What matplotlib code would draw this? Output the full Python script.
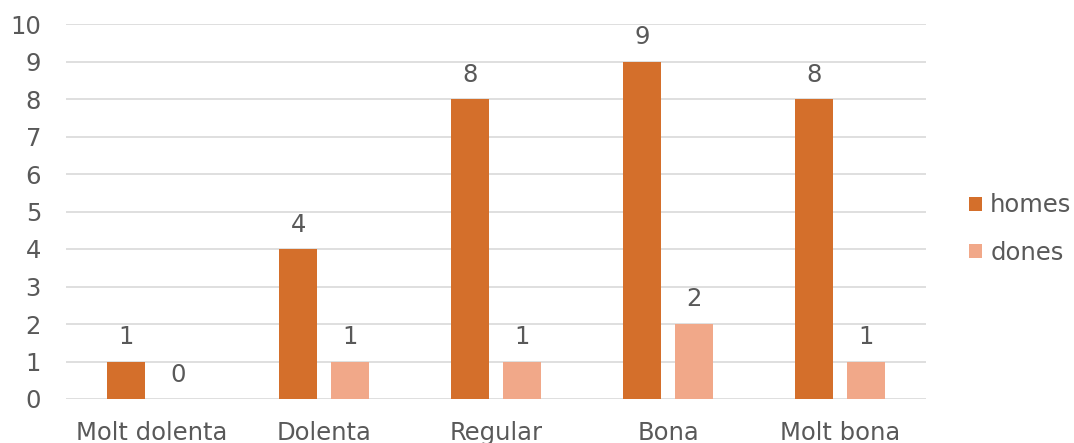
import matplotlib
matplotlib.use("Agg")
import matplotlib.pyplot as plt
import numpy as np

categories = ["Molt dolenta", "Dolenta", "Regular", "Bona", "Molt bona"]
homes = [1, 4, 8, 9, 8]
dones = [0, 1, 1, 2, 1]
yticks = list(range(0, 11))

c_homes = "#D46F2B"
c_dones = "#F1A889"
txt = "#595959"
grid = "#D9D9D9"
fs = 17.5

plt.rcParams['font.family'] = ['DejaVu Sans']

fig = plt.figure(figsize=(10.74, 4.43), dpi=100)
ax = fig.add_axes([66/1074, 44/443, 860/1074, 375/443])

x = np.arange(len(categories))
w = 0.222
off = 0.149
b1 = ax.bar(x - off, homes, w, color=c_homes, label="homes", zorder=3)
b2 = ax.bar(x + off, dones, w, color=c_dones, label="dones", zorder=3)
ax.bar_label(b1, padding=9, fontsize=fs, color=txt)
ax.bar_label(b2, padding=9, fontsize=fs, color=txt)

ax.set_xlim(-0.5, len(categories) - 0.5)
ax.set_ylim(0, 10)
ax.set_yticks(yticks)
ax.set_yticklabels([str(v) for v in yticks])
ax.set_xticks(x)
ax.set_xticklabels(categories)
ax.tick_params(axis='y', length=0, pad=18, labelsize=fs, labelcolor=txt)
ax.tick_params(axis='x', length=0, pad=16, labelsize=fs, labelcolor=txt)
for s in ax.spines.values():
    s.set_visible(False)
ax.yaxis.grid(True, color=grid, linewidth=1.2, zorder=0)
ax.set_axisbelow(True)

fig.legend(loc='center left', bbox_to_anchor=(969/1074, 214/443), frameon=False,
           fontsize=fs, handlelength=0.55, handleheight=0.55, handletextpad=0.32,
           labelspacing=0.95, borderpad=0, borderaxespad=0, labelcolor=txt)

fig.savefig("out.png", dpi=100)
